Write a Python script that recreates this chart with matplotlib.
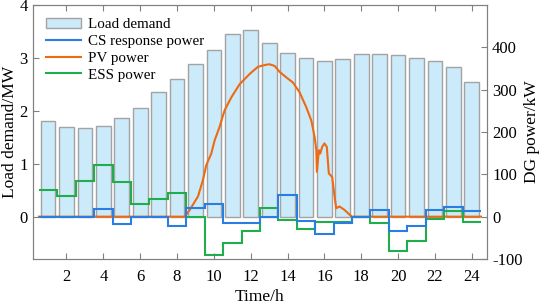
import matplotlib
matplotlib.use("Agg")
import matplotlib.pyplot as plt
from matplotlib.lines import Line2D
import numpy as np

hours = np.arange(1, 25)
load_mw = [1.81, 1.70, 1.68, 1.72, 1.86, 2.05, 2.36, 2.61, 2.88, 3.15, 3.45, 3.53,
           3.28, 3.10, 3.00, 2.95, 2.98, 3.07, 3.08, 3.06, 3.00, 2.95, 2.83, 2.55]

cs_kw = [0, 0, 0, 17, -17, 0, 0, -23, 21, 30, -14, -16,
         0, 52, -11, -41, -16, 0, 16, -34, -21, 16, 23, 14]
ess_kw = [62, 50, 84, 123, 81, 30, 42, 56, 0, -90, -63, -35,
          20, -9, -28, -13, -13, 0, -16, -80, -57, -6, 13, -13]

pv_t = [0.5, 8.42, 8.69, 9.14, 9.41, 9.59, 9.86, 10.04, 10.31, 10.58, 10.95, 11.4,
        11.94, 12.39, 12.85, 13.02, 13.3, 13.57, 13.93, 14.29, 14.65, 15.02, 15.29,
        15.47, 15.56, 15.59, 15.70, 15.77, 15.88, 16.0, 16.13, 16.24, 16.42, 16.55,
        16.64, 16.82, 17.09, 17.36, 17.5, 24.5]
pv_kw = [0, 0, 16, 48, 87, 122, 149, 180, 212, 251, 282, 313,
         337, 354, 359, 360, 356, 342, 329, 317, 294, 258, 227,
         188, 157, 106, 157, 149, 165, 173, 165, 102, 94, 48,
         20, 24, 16, 5, 0, 0]

plt.rcParams['font.family'] = ['Liberation Serif', 'DejaVu Serif']
plt.rcParams['font.size'] = 12
plt.rcParams['axes.unicode_minus'] = False

blue, orange, green = '#2a7de1', '#ee6a12', '#1fae4b'

fig = plt.figure(figsize=(5.4, 3.04), dpi=100)
ax = fig.add_axes([0.0617, 0.148, 0.8393, 0.8356])
ax2 = ax.twinx()

bars = ax.bar(hours, load_mw, width=0.8, color='#ccebfa', edgecolor='#a3a3a3',
              linewidth=1.0, zorder=1)
ax.set_xlim(0.2, 24.8)
ax.set_ylim(-0.8, 4)
ax.set_yticks([0, 1, 2, 3, 4])
ax.set_xticks(np.arange(2, 25, 2))
ax.set_xlabel('Time/h', fontsize=12.5, labelpad=3)
ax.set_ylabel('Load demand/MW', fontsize=12.5, labelpad=1)

edges = np.arange(0.5, 25, 1)
ax2.plot(pv_t, pv_kw, color=orange, lw=1.5, zorder=2)
ax2.stairs(ess_kw, edges, baseline=None, color=green, lw=1.5, zorder=3)
ax2.stairs(cs_kw, edges, baseline=None, color=blue, lw=1.5, zorder=4)
ax2.set_ylim(-100, 500)
ax2.set_yticks([-100, 0, 100, 200, 300, 400])
ax2.set_ylabel('DG power/kW', fontsize=12.5, labelpad=1)

for a in (ax, ax2):
    for s in a.spines.values():
        s.set_color('#808080')
    a.tick_params(direction='in', color='#808080', length=4, labelsize=12, pad=4)
ax.tick_params(top=True)
ax.tick_params(axis='x', pad=7)

handles = [bars,
           Line2D([], [], color=blue, lw=1.5),
           Line2D([], [], color=orange, lw=1.5),
           Line2D([], [], color=green, lw=1.5)]
labels = ['Load demand', 'CS response power', 'PV power', 'ESS power']
ax2.legend(handles, labels, loc='upper left', frameon=False, fontsize=10.8,
           labelspacing=0.22, handlelength=2.35, handletextpad=0.45,
           borderaxespad=0.45)

fig.savefig('out.png', dpi=100)
